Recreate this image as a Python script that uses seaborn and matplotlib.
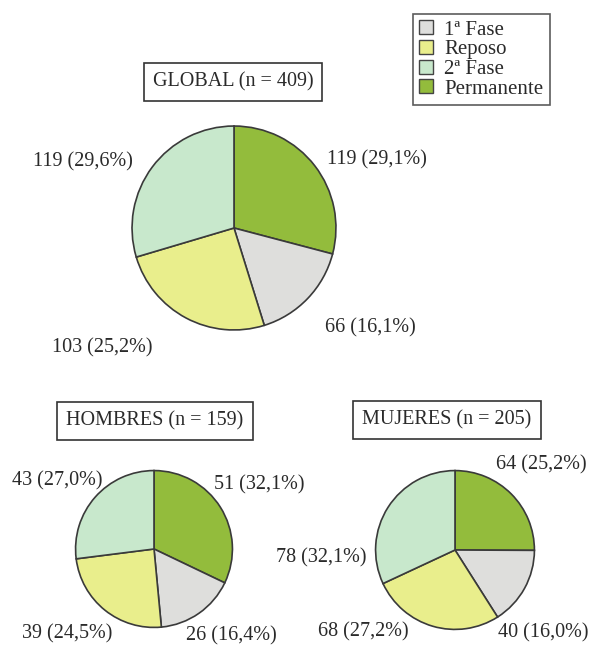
import matplotlib
matplotlib.use('Agg')
import matplotlib.pyplot as plt
from matplotlib.patches import Patch
import seaborn as sns

sns.set_style('white')
plt.rcParams['font.family'] = ['Liberation Serif', 'DejaVu Serif']

# wedge order, clockwise from 12 o'clock
categories = ['Permanente', '1ª Fase', 'Reposo', '2ª Fase']
legend_order = ['1ª Fase', 'Reposo', '2ª Fase', 'Permanente']

global_n = [119, 66, 103, 119]
global_pct = [29.1, 16.1, 25.2, 29.6]
hombres_n = [51, 26, 39, 43]
hombres_pct = [32.1, 16.4, 24.5, 27.0]
mujeres_n = [64, 40, 68, 78]
mujeres_pct = [25.2, 16.0, 27.2, 32.1]

titles = ['GLOBAL (n = 409)', 'HOMBRES (n = 159)', 'MUJERES (n = 205)']

colors = {'1ª Fase': '#dededc', 'Reposo': '#e9ee8c',
          '2ª Fase': '#c8e8cc', 'Permanente': '#93bc3c'}

W, H = 595, 645
fig = plt.figure(figsize=(W / 100, H / 100), dpi=100)

# layout in pixels: pie centre, radius, title centre, label anchors (left x, centre y)
layout = [
    dict(c=(234, 228), r=104, t=(233, 82),
         lab=[(327, 160), (325, 328), (52, 348), (33, 162)]),
    dict(c=(154, 549), r=80, t=(155, 421),
         lab=[(214, 485), (186, 636), (22, 634), (12, 481)]),
    dict(c=(455, 550), r=81, t=(447, 420),
         lab=[(496, 465), (498, 633), (318, 632), (276, 558)]),
]

datasets = [(global_n, global_pct), (hombres_n, hombres_pct), (mujeres_n, mujeres_pct)]
text_kw = dict(fontsize=14.5, color='#2a2a2a')

for (counts, pct), lay, title in zip(datasets, layout, titles):
    cx, cy = lay['c']
    r = lay['r']
    ax = fig.add_axes([(cx - r) / W, (H - cy - r) / H, 2 * r / W, 2 * r / H])
    ax.pie(pct, colors=[colors[c] for c in categories], startangle=90,
           counterclock=False, radius=1,
           wedgeprops=dict(edgecolor='#3a3a3a', linewidth=1.2))
    ax.set_xlim(-1.02, 1.02)
    ax.set_ylim(-1.02, 1.02)
    ax.set_aspect('equal')
    ax.axis('off')

    for n, p, (lx, ly) in zip(counts, pct, lay['lab']):
        txt = f'{n} ({p:.1f}%)'.replace('.', ',')
        fig.text(lx / W, 1 - ly / H, txt, ha='left', va='center', **text_kw)

    tx, ty = lay['t']
    fig.text(tx / W, 1 - ty / H, title, ha='center', va='center',
             bbox=dict(boxstyle='square,pad=0.45', facecolor='white',
                       edgecolor='#333333', linewidth=1.2),
             **text_kw)

handles = [Patch(facecolor=colors[c], edgecolor='#444444', linewidth=1.0)
           for c in legend_order]
leg = fig.legend(handles, legend_order, loc='upper left',
                 bbox_to_anchor=(413 / W, 1 - 14 / H), frameon=True,
                 fancybox=False, edgecolor='#333333', fontsize=15,
                 handlelength=0.65, handleheight=0.65, handletextpad=0.55,
                 labelspacing=0.02, borderpad=0.3, borderaxespad=0)
leg.get_frame().set_linewidth(1.2)
for t in leg.get_texts():
    t.set_color('#2a2a2a')

fig.savefig('out.png', dpi=100)
